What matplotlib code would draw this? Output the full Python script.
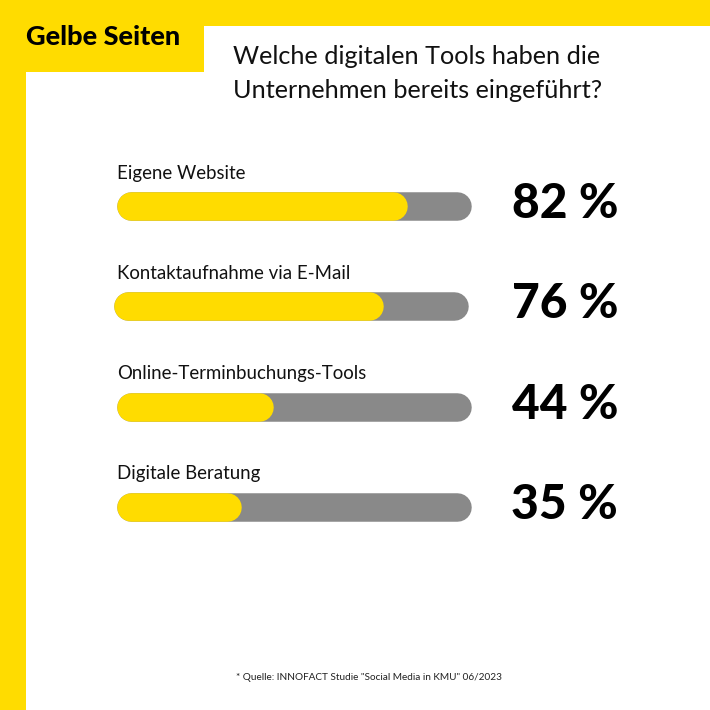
import matplotlib
matplotlib.use('Agg')
import matplotlib.pyplot as plt
from matplotlib.patches import Rectangle

plt.rcParams['font.family'] = ['Lato', 'DejaVu Sans']

labels = ['Eigene Website', 'Kontaktaufnahme via E-Mail',
          'Online-Terminbuchungs-Tools', 'Digitale Beratung']
values = [82, 76, 44, 35]
value_labels = ['82 %', '76 %', '44 %', '35 %']

title_lines = ['Welche digitalen Tools haben die', 'Unternehmen bereits eingeführt?']
brand = 'Gelbe Seiten'
source = '* Quelle: INNOFACT Studie "Social Media in KMU" 06/2023'

YELLOW = '#FFDC00'
GREY = '#898989'

# track position of each row, in pixels
track_left = [117, 114, 117, 117]
track_mid = [206, 306, 406.5, 506.5]
track_w = 354.5
track_h = 28.5


def round_bar(ax, x, y, w, color, zorder):
    # dicke Linie mit runden Enden, Breite in Punkt
    r = track_h / 2
    ax.plot([x + r, x + w - r], [y, y], color=color, lw=track_h * 0.72,
            solid_capstyle='round', zorder=zorder)


fig = plt.figure(figsize=(7.1, 7.1), dpi=100)
ax = fig.add_axes([0, 0, 1, 1])
ax.set_xlim(0, 710)
ax.set_ylim(710, 0)
ax.axis('off')

# gelber Rahmen oben und links
ax.add_patch(Rectangle((0, 0), 710, 26, facecolor=YELLOW, edgecolor='none'))
ax.add_patch(Rectangle((0, 0), 26, 710, facecolor=YELLOW, edgecolor='none'))
ax.add_patch(Rectangle((0, 0), 204, 72, facecolor=YELLOW, edgecolor='none'))

ax.text(26, 37, brand, fontsize=19.5, fontweight='black', color='black',
        ha='left', va='center')

ax.text(233, 57, title_lines[0], fontsize=18.2, color='#111111', ha='left', va='center')
ax.text(233, 91, title_lines[1], fontsize=18.2, color='#111111', ha='left', va='center')

for i in range(len(labels)):
    x0 = track_left[i]
    y0 = track_mid[i]
    round_bar(ax, x0, y0, track_w, GREY, 2)
    round_bar(ax, x0, y0, track_w * values[i] / 100, YELLOW, 3)
    ax.text(117, y0 - 32.5, labels[i], fontsize=13.4, color='#111111', ha='left', va='center')
    ax.text(618, y0 - 1.5, value_labels[i], fontsize=34.5, fontweight='black', color='black',
            ha='right', va='center')

ax.text(369, 677, source, fontsize=7.2, color='#222222', ha='center', va='center')

plt.savefig('out.png', dpi=100)
